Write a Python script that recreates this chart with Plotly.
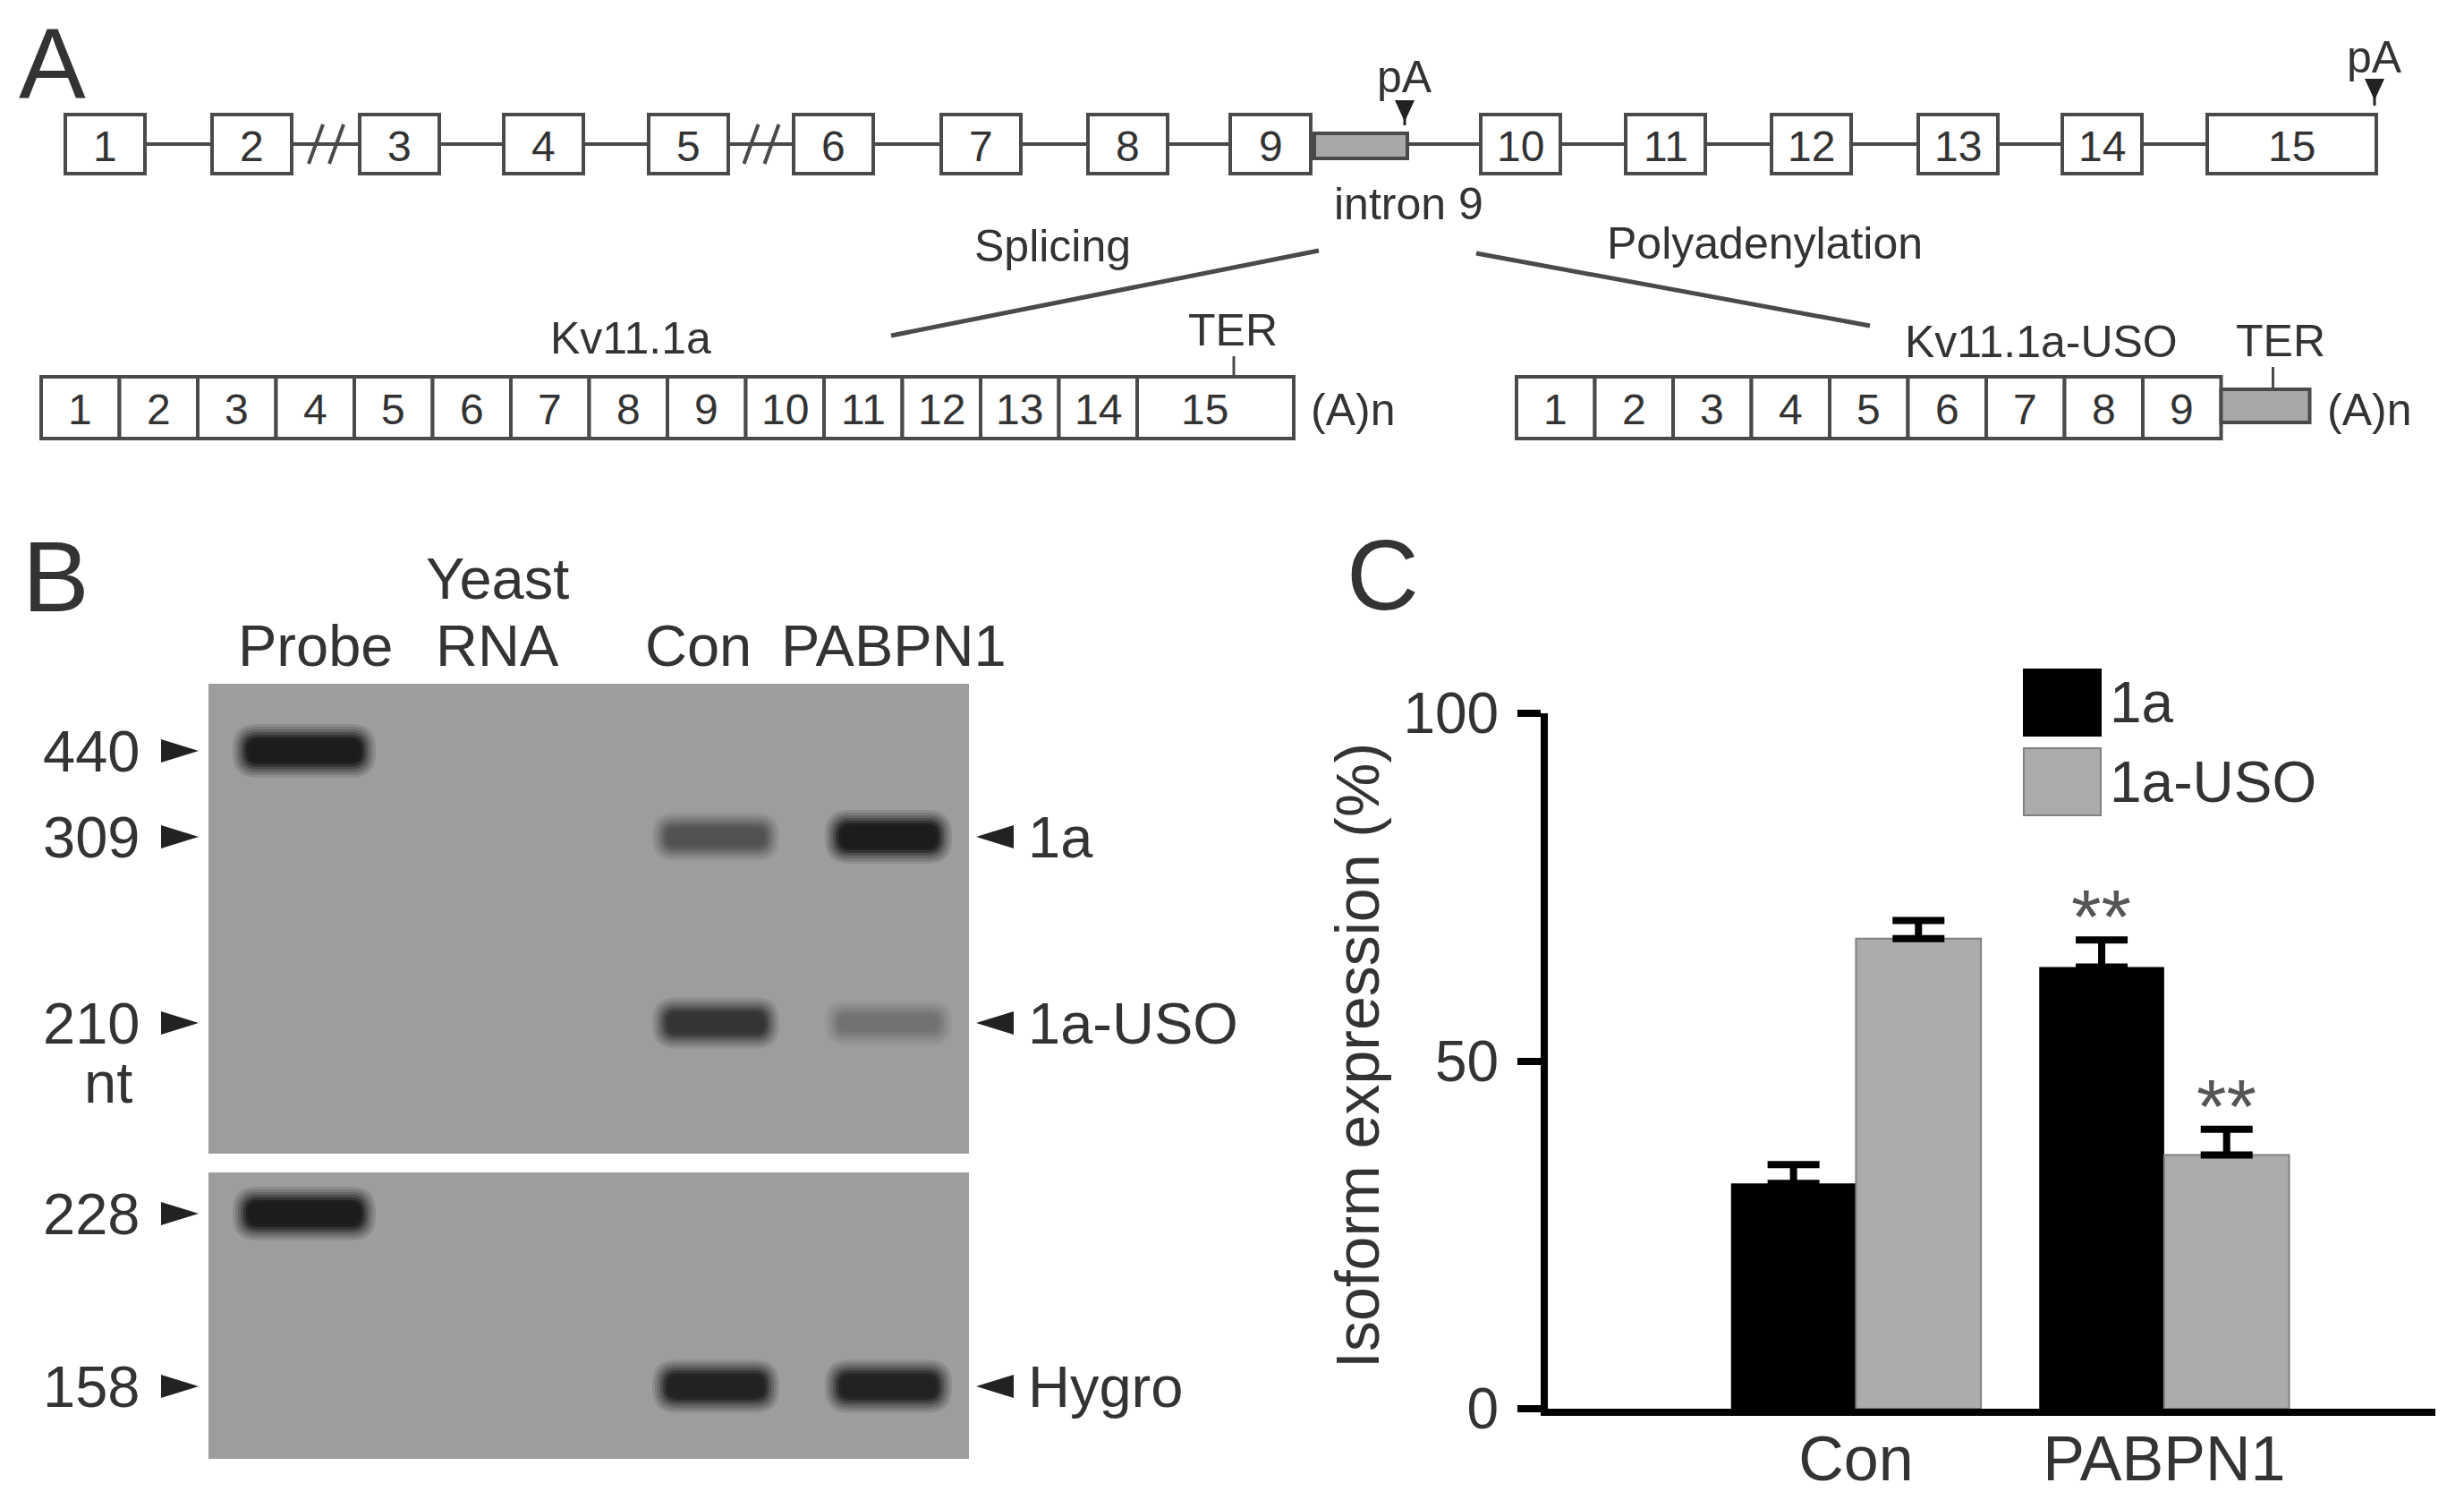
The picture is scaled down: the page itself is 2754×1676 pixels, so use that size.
import plotly.graph_objects as go

W, H = 2754, 1676
OFF = 8  # page body margin, compensated in every pixel placement
FONT = "Liberation Sans, Arial, Helvetica, sans-serif"
TXT = "#333333"
LINE = "#4a4a4a"

# ---- panel C: isoform expression (%)
groups = ["Con", "PABPN1"]
iso_1a = [32.4, 63.5]
iso_1a_err = [2.7, 3.9]
iso_uso = [67.6, 36.5]
iso_uso_err = [2.6, 3.7]
sig_1a = ["", "**"]
sig_uso = ["", "**"]

# ---- panel B: RNase protection gel
lanes = ["Probe", "Yeast<br>RNA", "Con", "PABPN1"]
upper_nt = [440, 309, 210]
upper_mig = [839, 935, 1143]      # migration position of each size marker
lower_nt = [228, 158]
lower_mig = [1356, 1549]
upper_signal = [[1.0, 0.0, 0.0],  # Probe
                [0.0, 0.0, 0.0],  # Yeast RNA
                [0.0, 0.55, 0.8],  # Con
                [0.0, 1.0, 0.3]]  # PABPN1
lower_signal = [[1.0, 0.0],
                [0.0, 0.0],
                [0.0, 0.95],
                [0.0, 0.95]]
band_labels = {"1a": 309, "1a-USO": 210, "Hygro": 158}

# ---- panel A: Kv11.1 gene and transcripts
exon_names = ["1", "2", "3", "4", "5", "6", "7", "8", "9", "10", "11", "12", "13", "14", "15"]
gene_exon_start = [73, 237, 402, 563, 725, 887, 1052, 1216, 1375, 1655, 1817, 1980, 2144, 2305, 2467]
gene_exon_len = [89, 89, 89, 89, 89, 89, 89, 89, 90, 89, 89, 89, 89, 89, 189]
intron9_span = [1469, 1573]
breaks_after = [2, 5]
mrna_1a_exons = exon_names
mrna_uso_exons = exon_names[:9]

# layout helpers (pixel positions on the 2754x1676 canvas)
lane_x = [340, 565, 800, 993]
gel_x = [233, 1083]
upper_gel_y = [764, 1289]
lower_gel_y = [1310, 1630]


def dom_x(a, b):
    return [(a - OFF) / W, (b - OFF) / W]


def dom_y(top, bottom):
    return [1 - (bottom - OFF) / H, 1 - (top - OFF) / H]


fig = go.Figure()

# ---------------- panel C bars
fig.add_trace(go.Bar(
    x=groups, y=iso_1a, name="1a", marker=dict(color="#000000", line=dict(width=0)),
    error_y=dict(type="data", symmetric=False, array=iso_1a_err, arrayminus=[0, 0],
                 color="#000000", thickness=8, width=29),
    xaxis="x", yaxis="y", showlegend=False))
fig.add_trace(go.Bar(
    x=groups, y=iso_uso, name="1a-USO", marker=dict(color="#ababab", line=dict(width=2, color="#808080")),
    error_y=dict(type="data", symmetric=False, array=iso_uso_err, arrayminus=[0, 0],
                 color="#000000", thickness=8, width=29),
    xaxis="x", yaxis="y", showlegend=False))

# canvas trace so the overlay axis exists
fig.add_trace(go.Scatter(x=[OFF], y=[OFF], mode="markers", marker=dict(opacity=0),
                         xaxis="x4", yaxis="y4", showlegend=False, hoverinfo="skip"))
# gel axes anchors
fig.add_trace(go.Scatter(x=[gel_x[0]], y=[upper_gel_y[0]], mode="markers", marker=dict(opacity=0),
                         xaxis="x2", yaxis="y2", showlegend=False, hoverinfo="skip"))
fig.add_trace(go.Scatter(x=[gel_x[0]], y=[lower_gel_y[0]], mode="markers", marker=dict(opacity=0),
                         xaxis="x3", yaxis="y3", showlegend=False, hoverinfo="skip"))

shapes = []
ann = []


def text(x, y, s, size, xanchor="center", color=TXT, ref="4", **kw):
    ann.append(dict(x=x, y=y, text=s, xref="x" + ref, yref="y" + ref, showarrow=False,
                    xanchor=xanchor, yanchor="middle", font=dict(family=FONT, size=size, color=color), **kw))


# significance stars
for i, s in enumerate(sig_1a):
    if s:
        ann.append(dict(x=groups[i], y=iso_1a[i] + iso_1a_err[i], xref="x", yref="y", text=s, showarrow=False,
                        xanchor="center", yanchor="bottom", xshift=-70, yshift=-24,
                        font=dict(family=FONT, size=86, color="#555555")))
for i, s in enumerate(sig_uso):
    if s:
        ann.append(dict(x=groups[i], y=iso_uso[i] + iso_uso_err[i], xref="x", yref="y", text=s, showarrow=False,
                        xanchor="center", yanchor="bottom", xshift=70, yshift=-24,
                        font=dict(family=FONT, size=86, color="#555555")))

# legend of panel C
for (y0, y1), col, lc, lab in [((748, 822), "#000000", "#000000", "1a"),
                               ((836, 911), "#ababab", "#808080", "1a-USO")]:
    shapes.append(dict(type="rect", xref="x4", yref="y4", x0=2262, x1=2348, y0=y0, y1=y1,
                       fillcolor=col, line=dict(color=lc, width=2)))
    text(2356, (y0 + y1) / 2, lab, 64, xanchor="left")

text(1517, 1180, "Isoform expression (%)", 68, textangle=-90)
text(1545, 642, "C", 112)

# ---------------- panel B gel


def rounded(x0, x1, y0, y1, r):
    return (f"M{x0 + r},{y0} L{x1 - r},{y0} Q{x1},{y0} {x1},{y0 + r} L{x1},{y1 - r} Q{x1},{y1} {x1 - r},{y1} "
            f"L{x0 + r},{y1} Q{x0},{y1} {x0},{y1 - r} L{x0},{y0 + r} Q{x0},{y0} {x0 + r},{y0} Z")


for ax in ["2", "3"]:
    shapes.append(dict(type="rect", xref=f"x{ax} domain", yref=f"y{ax} domain", x0=0, x1=1, y0=0, y1=1,
                       fillcolor="#9d9d9d", line=dict(width=0), layer="below"))

# soft edge of a band: stacked translucent layers, widest first
BLUR = [(12, 0.12), (9, 0.16), (6, 0.22), (3, 0.32), (0, 0.5), (-3, 0.8), (-6, 1.0)]


def bands(signal, mig, ax):
    for li, row in enumerate(signal):
        for mi, s in enumerate(row):
            if s <= 0:
                continue
            cx, cy = lane_x[li], mig[mi]
            w = 136 if li == 0 else 118
            t = 22 + 14 * s
            g = int(150 - 122 * s)
            col = f"rgb({g},{g},{g})"
            for grow, op in BLUR:
                r = max((t / 2 + grow) * 0.9, 1)
                shapes.append(dict(type="path", xref="x" + ax, yref="y" + ax,
                                   path=rounded(cx - w / 2 - grow, cx + w / 2 + grow,
                                                cy - t / 2 - grow, cy + t / 2 + grow, r),
                                   fillcolor=col, opacity=op, line=dict(width=0)))


bands(upper_signal, upper_mig, "2")
bands(lower_signal, lower_mig, "3")

# lane labels
lab_x = [352, 556, 780, 999]
for lx, lab in zip(lab_x, lanes):
    if "<br>" in lab:
        top, bot = lab.split("<br>")
        text(lx, 646, top, 65)
        text(lx, 721, bot, 65)
    else:
        text(lx, 721, lab, 65)

# size markers
for nt, y in list(zip(upper_nt, upper_mig)) + list(zip(lower_nt, lower_mig)):
    text(158, y, str(nt), 65, xanchor="right")
    shapes.append(dict(type="path", xref="x4", yref="y4", path=f"M180,{y - 13} L222,{y} L180,{y + 13} Z",
                       fillcolor="#222222", line=dict(width=0)))
text(121, 1209, "nt", 65)

mig_of = dict(zip(upper_nt + lower_nt, upper_mig + lower_mig))
for lab, nt in band_labels.items():
    y = mig_of[nt]
    shapes.append(dict(type="path", xref="x4", yref="y4", path=f"M1133,{y - 13} L1091,{y} L1133,{y + 13} Z",
                       fillcolor="#222222", line=dict(width=0)))
    text(1147, y, lab, 65, xanchor="left")
text(62, 644, "B", 112)

# ---------------- panel A diagram
row_y = [128, 194]
mid = sum(row_y) / 2
shapes.append(dict(type="line", xref="x4", yref="y4", x0=gene_exon_start[0], x1=gene_exon_start[-1],
                   y0=mid, y1=mid, line=dict(color=LINE, width=4)))
for b in breaks_after:
    gx = (gene_exon_start[b - 1] + gene_exon_len[b - 1] + gene_exon_start[b]) / 2
    for dx in (-11, 12):
        shapes.append(dict(type="line", xref="x4", yref="y4", x0=gx + dx - 8, x1=gx + dx + 8,
                           y0=mid + 22, y1=mid - 22, line=dict(color=LINE, width=4)))
for name, x0, ln in zip(exon_names, gene_exon_start, gene_exon_len):
    shapes.append(dict(type="rect", xref="x4", yref="y4", x0=x0, x1=x0 + ln, y0=row_y[0], y1=row_y[1],
                       fillcolor="white", line=dict(color=LINE, width=4)))
    text(x0 + ln / 2, mid + 2, name, 48)
shapes.append(dict(type="rect", xref="x4", yref="y4", x0=intron9_span[0], x1=intron9_span[1], y0=149, y1=177,
                   fillcolor="#a8a8a8", line=dict(color=LINE, width=4)))

# polyadenylation sites
for px, ty, y0, y1 in [(intron9_span[1] - 3, 86, 112, 140), (gene_exon_start[-1] + gene_exon_len[-1] - 2, 64, 88, 118)]:
    text(px, ty, "pA", 50)
    shapes.append(dict(type="path", xref="x4", yref="y4",
                       path=f"M{px - 11},{y0} L{px + 11},{y0} L{px},{y0 + 24} Z",
                       fillcolor="#222222", line=dict(width=0)))
    shapes.append(dict(type="line", xref="x4", yref="y4", x0=px, x1=px, y0=y0 + 20, y1=y1,
                       line=dict(color="#222222", width=3)))

text(1574, 228, "intron 9", 50)
text(1176, 275, "Splicing", 50)
text(1972, 272, "Polyadenylation", 50)
shapes.append(dict(type="line", xref="x4", yref="y4", x0=1474, y0=280, x1=996, y1=375,
                   line=dict(color=LINE, width=5)))
shapes.append(dict(type="line", xref="x4", yref="y4", x0=1650, y0=283, x1=2090, y1=364,
                   line=dict(color=LINE, width=5)))

# mRNA rows
m_y = [421, 490]
m_mid = sum(m_y) / 2
cell = 87.5
x = 46
for name in mrna_1a_exons:
    wd = cell * (2 if name == "15" else 1)
    shapes.append(dict(type="rect", xref="x4", yref="y4", x0=x, x1=x + wd, y0=m_y[0], y1=m_y[1],
                       fillcolor="white", line=dict(color=LINE, width=4)))
    text(x + wd / 2 - (12 if name == "15" else 0), m_mid + 2, name, 48)
    x += wd
end_1a = x
shapes.append(dict(type="line", xref="x4", yref="y4", x0=1379, x1=1379, y0=398, y1=m_y[0],
                   line=dict(color=LINE, width=3)))
text(1378, 369, "TER", 50)
text(705, 378, "Kv11.1a", 50)
text(end_1a + 66, m_mid + 2, "(A)n", 50)

x = 1695
for name in mrna_uso_exons:
    shapes.append(dict(type="rect", xref="x4", yref="y4", x0=x, x1=x + cell, y0=m_y[0], y1=m_y[1],
                       fillcolor="white", line=dict(color=LINE, width=4)))
    text(x + cell / 2, m_mid + 2, name, 48)
    x += cell
shapes.append(dict(type="rect", xref="x4", yref="y4", x0=x, x1=x + 99, y0=435, y1=472,
                   fillcolor="#a8a8a8", line=dict(color=LINE, width=4)))
shapes.append(dict(type="line", xref="x4", yref="y4", x0=x + 58, x1=x + 58, y0=410, y1=435,
                   line=dict(color=LINE, width=3)))
text(x + 66, 381, "TER", 50)
text(2281, 382, "Kv11.1a-USO", 50)
text(x + 99 + 66, m_mid + 2, "(A)n", 50)
text(58, 70, "A", 112)

# ---------------- layout
fig.update_layout(
    width=W, height=H, margin=dict(l=0, r=0, t=0, b=0, pad=0, autoexpand=False),
    paper_bgcolor="white", plot_bgcolor="rgba(0,0,0,0)",
    barmode="group", bargap=0.189, bargroupgap=0,
    font=dict(family=FONT, color=TXT),
    xaxis=dict(domain=dom_x(1730, 2722), anchor="y", range=[-1.0, 1.88], showline=True, linewidth=8,
               linecolor="black", ticks="", showgrid=False, zeroline=False, automargin=False,
               ticklabelstandoff=-12, tickfont=dict(size=70, color=TXT, family=FONT)),
    yaxis=dict(domain=dom_y(797, 1574), anchor="x", range=[0, 100], tickvals=[0, 50, 100],
               showline=True, linewidth=8, linecolor="black", ticks="outside", ticklen=26,
               tickwidth=8, tickcolor="black", showgrid=False, zeroline=False, automargin=False,
               ticklabelstandoff=8, tickfont=dict(size=64, color=TXT, family=FONT)),
    xaxis2=dict(domain=dom_x(*gel_x), anchor="y2", range=gel_x, visible=False),
    yaxis2=dict(domain=dom_y(*upper_gel_y), anchor="x2", range=upper_gel_y[::-1], visible=False),
    xaxis3=dict(domain=dom_x(*gel_x), anchor="y3", range=gel_x, visible=False),
    yaxis3=dict(domain=dom_y(*lower_gel_y), anchor="x3", range=lower_gel_y[::-1], visible=False),
    xaxis4=dict(domain=[0, 1], anchor="y4", range=[OFF, W + OFF], visible=False),
    yaxis4=dict(domain=[0, 1], anchor="x4", range=[H + OFF, OFF], visible=False),
    shapes=shapes, annotations=ann,
)

fig.write_html("out.html")
